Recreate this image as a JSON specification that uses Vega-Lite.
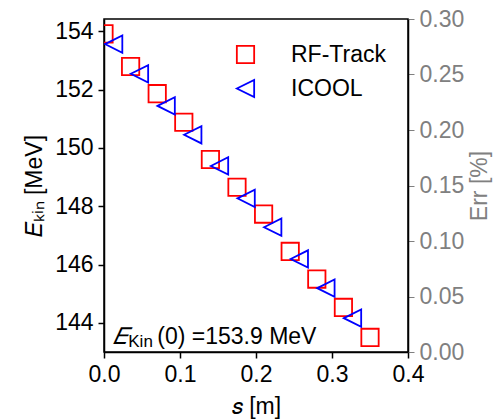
{
  "$schema": "https://vega.github.io/schema/vega-lite/v6.json",
  "width": 304,
  "height": 333,
  "autosize": {"type": "none"},
  "padding": {"left": 104, "top": 19, "right": 92, "bottom": 68},
  "background": "white",
  "config": {
    "view": {"stroke": "black", "strokeWidth": 1.5},
    "font": "Liberation Sans",
    "axis": {
      "grid": false,
      "labelFlush": false,
      "labelOverlap": false,
      "labelFont": "Liberation Sans",
      "titleFont": "Liberation Sans",
      "labelFontSize": 23,
      "titleFontSize": 23,
      "titleFontWeight": "normal",
      "labelColor": "black",
      "titleColor": "black",
      "tickColor": "black",
      "domainColor": "black",
      "tickSize": 6,
      "tickWidth": 1.5,
      "domainWidth": 1.5,
      "labelPadding": 5
    }
  },
  "layer": [
    {
      "layer": [
        {
          "data": {
            "values": [
              {"series": "RF-Track", "s": 0.0, "E": 153.91},
              {"series": "RF-Track", "s": 0.035, "E": 152.79},
              {"series": "RF-Track", "s": 0.07, "E": 151.86},
              {"series": "RF-Track", "s": 0.105, "E": 150.88},
              {"series": "RF-Track", "s": 0.14, "E": 149.6},
              {"series": "RF-Track", "s": 0.175, "E": 148.65},
              {"series": "RF-Track", "s": 0.21, "E": 147.73},
              {"series": "RF-Track", "s": 0.245, "E": 146.45},
              {"series": "RF-Track", "s": 0.28, "E": 145.5},
              {"series": "RF-Track", "s": 0.315, "E": 144.53},
              {"series": "RF-Track", "s": 0.35, "E": 143.5},
              {"series": "ICOOL", "s": 0.0127, "E": 153.56},
              {"series": "ICOOL", "s": 0.0467, "E": 152.54},
              {"series": "ICOOL", "s": 0.0818, "E": 151.44},
              {"series": "ICOOL", "s": 0.1168, "E": 150.45},
              {"series": "ICOOL", "s": 0.152, "E": 149.38},
              {"series": "ICOOL", "s": 0.187, "E": 148.27},
              {"series": "ICOOL", "s": 0.222, "E": 147.28},
              {"series": "ICOOL", "s": 0.257, "E": 146.19},
              {"series": "ICOOL", "s": 0.292, "E": 145.19},
              {"series": "ICOOL", "s": 0.327, "E": 144.16}
            ]
          },
          "mark": {"type": "point", "filled": false, "strokeWidth": 1.8, "size": 300, "clip": true, "opacity": 1},
          "encoding": {
            "x": {
              "field": "s", "type": "quantitative",
              "scale": {"domain": [0, 0.4], "nice": false, "zero": false},
              "axis": {"values": [0, 0.1, 0.2, 0.3, 0.4], "format": ".1f", "title": "𝑠 [m]", "titlePadding": 9}
            },
            "y": {
              "field": "E", "type": "quantitative",
              "scale": {"domain": [143, 154.42], "nice": false, "zero": false},
              "axis": {"orient": "left", "values": [144, 146, 148, 150, 152, 154], "title": "𝐸ₖᵢₙ [MeV]", "titlePadding": 8}
            },
            "shape": {
              "field": "series", "type": "nominal",
              "scale": {"domain": ["RF-Track", "ICOOL"], "range": ["square", "M-1,0L1,-1L1,1Z"]},
              "legend": {
                "orient": "none", "legendX": 130, "legendY": 24, "title": null,
                "labelFontSize": 23, "labelFont": "Liberation Sans", "labelColor": "black",
                "symbolSize": 300, "symbolStrokeWidth": 1.8, "labelOffset": 34,
                "rowPadding": 9, "padding": 0, "symbolFillColor": "transparent"
              }
            },
            "stroke": {
              "field": "series", "type": "nominal",
              "scale": {"domain": ["RF-Track", "ICOOL"], "range": ["#ff0000", "#0000ff"]},
              "legend": {
                "orient": "none", "legendX": 130, "legendY": 24, "title": null,
                "labelFontSize": 23, "labelFont": "Liberation Sans", "labelColor": "black",
                "symbolSize": 300, "symbolStrokeWidth": 1.8, "labelOffset": 34,
                "rowPadding": 9, "padding": 0, "symbolFillColor": "transparent"
              }
            }
          }
        },
        {
          "data": {"values": [{"label": "𝐸"}]},
          "mark": {"type": "text", "fontSize": 23, "align": "left", "baseline": "alphabetic", "color": "black", "fontStyle": "italic"},
          "encoding": {"x": {"datum": 0.0122}, "y": {"datum": 143.26}, "text": {"field": "label"}}
        },
        {
          "data": {"values": [{"label": "Kin"}]},
          "mark": {"type": "text", "fontSize": 17, "align": "left", "baseline": "alphabetic", "color": "black", "dx": 15, "dy": 3},
          "encoding": {"x": {"datum": 0.0122}, "y": {"datum": 143.26}, "text": {"field": "label"}}
        },
        {
          "data": {"values": [{"label": "(0) =153.9 MeV"}]},
          "mark": {"type": "text", "fontSize": 23, "align": "left", "baseline": "alphabetic", "color": "black", "dx": 44},
          "encoding": {"x": {"datum": 0.0122}, "y": {"datum": 143.26}, "text": {"field": "label"}}
        }
      ]
    },
    {
      "data": {"values": [{"err": 0}]},
      "mark": {"type": "point", "opacity": 0},
      "encoding": {
        "y": {
          "field": "err", "type": "quantitative",
          "scale": {"domain": [0, 0.3], "nice": false, "zero": false},
          "axis": {
            "orient": "right", "values": [0, 0.05, 0.1, 0.15, 0.2, 0.25, 0.3], "format": ".2f",
            "title": "Err [%]", "titleAngle": 270, "titleBaseline": "top", "labelColor": "#808080", "titleColor": "#808080",
            "tickColor": "#808080", "tickWidth": 1, "domainColor": "black", "titlePadding": 5
          }
        }
      }
    }
  ],
  "resolve": {"scale": {"y": "independent"}, "axis": {"y": "independent"}}
}
